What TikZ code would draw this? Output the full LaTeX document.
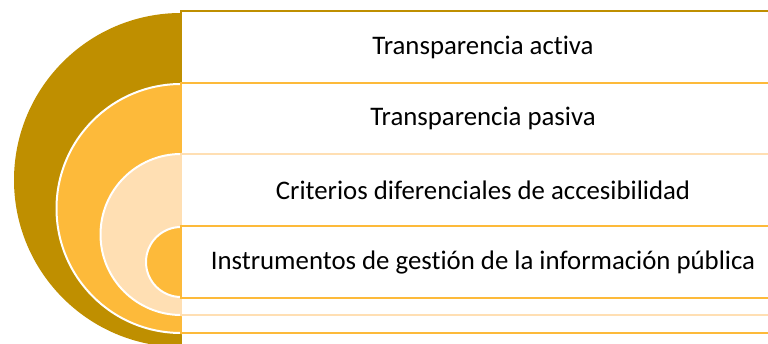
\documentclass[tikz,border=0pt]{standalone}
\usepackage{fontspec}
\setmainfont[Ligatures=NoCommon]{Carlito}
\definecolor{dgold}{HTML}{BF8F00}
\definecolor{ygold}{HTML}{FDBA3A}
\definecolor{peach}{HTML}{FFDFB3}
\begin{document}
\begin{tikzpicture}[x=1pt,y=-1pt,
  halfc/.style={draw=white,line width=2pt},
  band/.style={fill=white,line width=1.5pt},
  lbl/.style={font=\fontsize{26.8}{32}\selectfont,text=black,anchor=center}]
\useasboundingbox (0,0) rectangle (768,344);
\begin{scope}
\clip (0,0) rectangle (768,344);
% level 1
\fill[dgold] (181,13) arc[start angle=270,end angle=90,radius=167] -- cycle;
\draw[band,draw=dgold] (181,11) rectangle (790,360);
% level 2
\filldraw[halfc,fill=ygold] (181,84) arc[start angle=270,end angle=90,radius=124.5] -- cycle;
\draw[band,draw=ygold] (181,83) rectangle (790,333);
% level 3
\filldraw[halfc,fill=peach] (181,154) arc[start angle=270,end angle=90,radius=80.5] -- cycle;
\draw[band,draw=peach] (181,154) rectangle (790,315);
% level 4
\filldraw[halfc,fill=ygold] (181,227) arc[start angle=270,end angle=90,radius=35] -- cycle;
\draw[band,draw=ygold] (181,226) rectangle (790,298);
\end{scope}
\node[lbl] (t1) at (483,47) {Transparencia activa};
\node[lbl] (t2) at (483,118.5) {Transparencia pasiva};
\node[lbl] (t3) at (483,190.5) {Criterios diferenciales de accesibilidad};
\node[lbl] (t4) at (483,262.5) {Instrumentos de gestión de la información pública};
\end{tikzpicture}
\end{document}
